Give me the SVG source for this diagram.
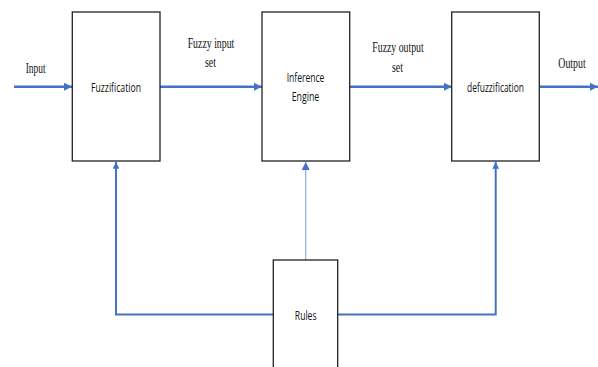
<svg xmlns="http://www.w3.org/2000/svg" width="598" height="367" viewBox="0 0 598 367">
<style>
.box{fill:#fff;stroke:#222;stroke-width:1.3}
.serif{font-family:"Liberation Serif",serif;font-size:14px;fill:#111}
.sans{font-family:"Open Sans","Liberation Sans",sans-serif;font-size:12.5px;fill:#111}
.c{fill:none;stroke:#4472C4;stroke-width:2.5}
.thin{fill:none;stroke:#8FAADC;stroke-width:1.2}
</style>
<defs>
<marker id="ah" viewBox="0 0 10 10" refX="10" refY="5" markerWidth="3.4" markerHeight="3.4" orient="auto" markerUnits="strokeWidth"><path d="M0,0L10,5L0,10z" fill="#4472C4"/></marker>
<marker id="ah2" viewBox="0 0 10 10" refX="10" refY="5" markerWidth="7" markerHeight="8" orient="auto" markerUnits="strokeWidth"><path d="M0,0L10,5L0,10z" fill="#4472C4"/></marker>
</defs>
<g id="connectors">
<line class="c" x1="14" y1="86.7" x2="72" y2="86.7" marker-end="url(#ah)"/>
<line class="c" x1="160" y1="86.7" x2="262" y2="86.7" marker-end="url(#ah)"/>
<line class="c" x1="350" y1="86.7" x2="452" y2="86.7" marker-end="url(#ah)"/>
<line class="c" x1="540" y1="86.7" x2="598" y2="86.7" marker-end="url(#ah)"/>
<polyline class="c" points="273.3,314.5 116,314.5 116,162" style="stroke-width:2" marker-end="url(#ah)"/>
<polyline class="c" points="337.7,314.5 495.7,314.5 495.7,162" style="stroke-width:2" marker-end="url(#ah)"/>
<line class="thin" x1="305.7" y1="260" x2="305.7" y2="162" marker-end="url(#ah2)"/>
</g>
<g id="fuzzification">
<rect class="box" x="72.3" y="12" width="87.7" height="149"/>
<text class="sans" x="116" y="91.5" text-anchor="middle" textLength="50" lengthAdjust="spacingAndGlyphs">Fuzzification</text>
</g>
<g id="inference">
<rect class="box" x="262" y="12" width="87.7" height="149"/>
<text class="sans" x="305.5" y="81.5" text-anchor="middle" textLength="37.7" lengthAdjust="spacingAndGlyphs">Inference</text>
<text class="sans" x="305.5" y="101" text-anchor="middle" textLength="27.6" lengthAdjust="spacingAndGlyphs">Engine</text>
</g>
<g id="defuzzification">
<rect class="box" x="451.7" y="12" width="87.6" height="149"/>
<text class="sans" x="495.5" y="91.5" text-anchor="middle" textLength="57" lengthAdjust="spacingAndGlyphs">defuzzification</text>
</g>
<g id="rules">
<rect class="box" x="273.3" y="260" width="64.4" height="120"/>
<text class="sans" x="305.7" y="320" text-anchor="middle" textLength="21.7" lengthAdjust="spacingAndGlyphs">Rules</text>
</g>
<g id="labels">
<text class="serif" x="35.7" y="73" text-anchor="middle" textLength="20" lengthAdjust="spacingAndGlyphs">Input</text>
<text class="serif" x="211" y="48" text-anchor="middle" textLength="46.7" lengthAdjust="spacingAndGlyphs">Fuzzy input</text>
<text class="serif" x="210.5" y="67" text-anchor="middle" textLength="11" lengthAdjust="spacingAndGlyphs">set</text>
<text class="serif" x="398" y="52" text-anchor="middle" textLength="51.3" lengthAdjust="spacingAndGlyphs">Fuzzy output</text>
<text class="serif" x="397.5" y="71.5" text-anchor="middle" textLength="11" lengthAdjust="spacingAndGlyphs">set</text>
<text class="serif" x="572" y="68" text-anchor="middle" textLength="27.3" lengthAdjust="spacingAndGlyphs">Output</text>
</g>
</svg>
